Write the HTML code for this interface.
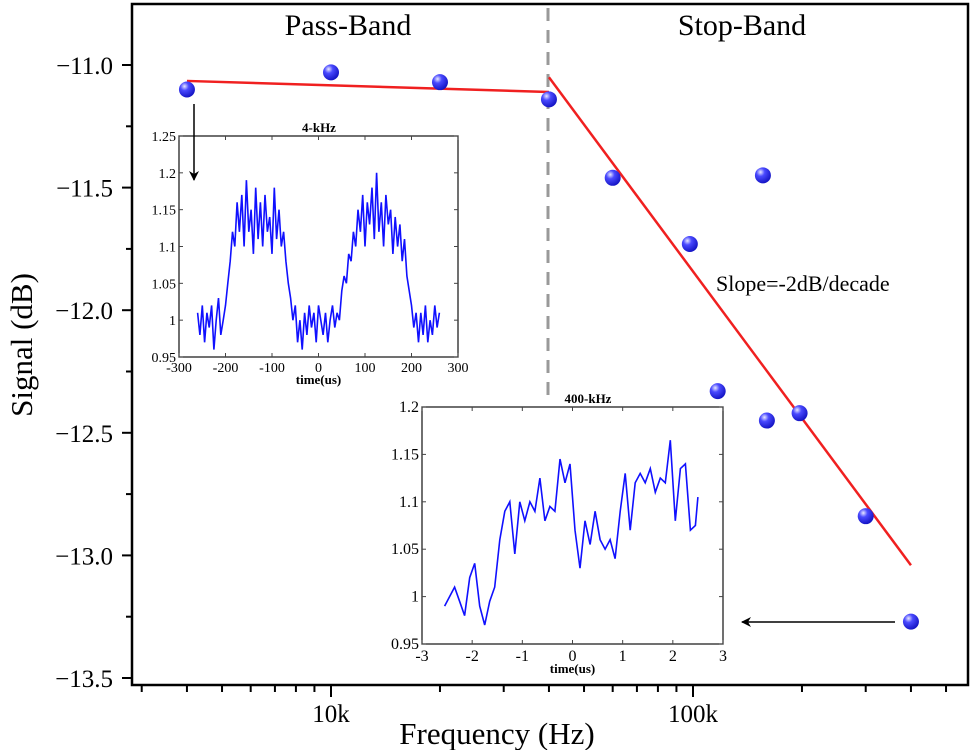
<!DOCTYPE html>
<html><head><meta charset="utf-8"><style>
html,body{margin:0;padding:0;background:#fff}
svg{display:block;font-family:"Liberation Serif",serif}
</style></head><body>
<svg id="chart" width="974" height="750" viewBox="0 0 974 750" xmlns="http://www.w3.org/2000/svg">
<defs>
<radialGradient id="ball" cx="0.35" cy="0.3" r="0.75">
<stop offset="0" stop-color="#e8e8ff"/><stop offset="0.35" stop-color="#4a4aff"/><stop offset="1" stop-color="#1010c0"/>
</radialGradient>
<marker id="ah" markerWidth="10" markerHeight="10" refX="9" refY="5" orient="auto" markerUnits="userSpaceOnUse"><path d="M0,0 L10,5 L0,10 L3,5 Z" fill="#000"/></marker>
</defs>
<g id="main"></g>
</svg>
<script>
// main chart data
const freqs = [4000, 10000, 20000, 40000, 60000, 98000, 117000, 156000, 160000, 197000, 300000, 400000];
const signals = [-11.10, -11.03, -11.07, -11.14, -11.46, -11.73, -12.33, -11.45, -12.45, -12.42, -12.84, -13.27];
const fitFreqs = [4000, 40000, 40000, 400000];
const fitVals = [-11.065, -11.11, -11.05, -13.04];
const yTicks = [-11.0, -11.5, -12.0, -12.5, -13.0, -13.5];
const xMajor = [10000, 100000];
const xMajorLabels = ['10k', '100k'];
// inset 1 (4 kHz)
const t1Start = -260, t1Step = 5;
const sig1 = [1.01,0.98,1.02,0.97,1.01,0.99,1.02,0.96,1.0,1.03,0.98,1.0,
1.02,1.05,1.08,1.12,1.10,1.16,1.12,
1.17,1.10,1.19,1.12,1.15,1.09,1.18,1.11,1.16,1.10,1.17,1.12,1.14,1.09,1.18,1.11,1.15,1.10,
1.12,1.08,1.05,1.03,1.0,1.02,0.97,
1.0,0.96,1.01,0.98,1.02,0.99,1.01,0.97,1.02,1.0,0.98,1.01,0.97,1.0,1.02,0.99,1.01,
1.0,1.04,1.06,1.05,1.09,1.08,1.12,1.10,1.15,
1.12,1.17,1.10,1.16,1.13,1.18,1.11,1.2,1.12,1.16,1.10,1.17,1.13,1.15,1.09,1.14,1.10,1.13,1.08,
1.11,1.06,1.04,1.02,0.99,1.01,0.97,
1.01,0.98,1.02,0.97,1.0,0.98,1.02,0.99,1.01];
const in1XTicks = [-300,-200,-100,0,100,200,300];
const in1YTicks = [0.95,1,1.05,1.1,1.15,1.2,1.25];
const in1YLabels = ['0.95','1','1.05','1.1','1.15','1.2','1.25'];
// inset 2 (400 kHz)
const t2 = [-2.55,-2.45,-2.35,-2.25,-2.15,-2.05,-1.95,-1.85,-1.75,-1.65,-1.55,-1.45,-1.35,-1.25,-1.15,-1.05,-0.95,-0.85,-0.75,-0.65,-0.55,-0.45,-0.35,-0.25,-0.15,-0.05,0.05,0.15,0.25,0.35,0.45,0.55,0.65,0.75,0.85,0.95,1.05,1.15,1.25,1.35,1.45,1.55,1.65,1.75,1.85,1.95,2.05,2.15,2.25,2.35,2.45,2.5];
const sig2 = [0.99,1.0,1.01,0.995,0.98,1.02,1.035,0.99,0.97,0.995,1.01,1.06,1.09,1.1,1.045,1.1,1.08,1.1,1.09,1.125,1.08,1.095,1.09,1.145,1.12,1.14,1.07,1.03,1.08,1.055,1.09,1.06,1.05,1.06,1.04,1.09,1.13,1.07,1.12,1.13,1.12,1.135,1.11,1.125,1.12,1.165,1.08,1.135,1.14,1.07,1.075,1.105];
const in2XTicks = [-3,-2,-1,0,1,2,3];
const in2YTicks = [0.95,1,1.05,1.1,1.15,1.2];
const in2YLabels = ['0.95','1','1.05','1.1','1.15','1.2'];

const NS='http://www.w3.org/2000/svg';
const root=document.getElementById('main');
function mk(tag,attrs,parent){const e=document.createElementNS(NS,tag);for(const k in attrs)e.setAttribute(k,attrs[k]);(parent||root).appendChild(e);return e;}
const L=132,R=968,T=4,B=685;
const xS=f=>331+(Math.log10(f)-4)*362;
const yS=v=>65+(-11-v)*245.2;

let fr=mk('rect',{x:L,y:T,width:R-L,height:B-T,fill:'none',stroke:'#000','stroke-width':2.5});



yTicks.forEach((v,i)=>{
  const y=yS(v);
  let t=mk('line',{x1:L-10,x2:L,y1:y,y2:y,stroke:'#000','stroke-width':2});
  
  
  if(i<yTicks.length-1){const ym=yS(v-0.25);let m=mk('line',{x1:L-6,x2:L,y1:ym,y2:ym,stroke:'#000','stroke-width':2});
  
  }
  let lb=mk('text',{x:113,y:y+9,'text-anchor':'end','font-size':25});
  lb.textContent='\u2212'+Math.abs(v).toFixed(1);
  
  
});
for(let d=3;d<=5;d++){for(let m=1;m<10;m++){const f=m*Math.pow(10,d);const x=xS(f);if(x<L+3||x>R-3)continue;
  const major=(m===1);
  let t=mk('line',{x1:x,x2:x,y1:B,y2:B+(major?12:7),stroke:'#000','stroke-width':2});
  
  
}}
xMajor.forEach((f,i)=>{let lb=mk('text',{x:xS(f),y:722,'text-anchor':'middle','font-size':25});lb.textContent=xMajorLabels[i];
  
  });

let xt=mk('text',{x:497,y:744,'text-anchor':'middle','font-size':31});xt.textContent='Frequency (Hz)';


let yt=mk('text',{x:0,y:0,'text-anchor':'middle','font-size':31,transform:'translate(32,345) rotate(-90)'});yt.textContent='Signal (dB)';



let pb=mk('text',{x:348,y:35,'text-anchor':'middle','font-size':30});pb.textContent='Pass-Band';


let sb=mk('text',{x:742,y:35,'text-anchor':'middle','font-size':30});sb.textContent='Stop-Band';


let sl=mk('text',{x:716,y:291,'font-size':22});sl.textContent='Slope=-2dB/decade';



let dl=mk('line',{x1:548,x2:548,y1:8,y2:400,stroke:'#999','stroke-width':3,'stroke-dasharray':'13,9'});



for(let i=0;i<fitFreqs.length;i+=2){
  let l=mk('line',{x1:xS(fitFreqs[i]),y1:yS(fitVals[i]),x2:xS(fitFreqs[i+1]),y2:yS(fitVals[i+1]),stroke:'#f02020','stroke-width':2.5});
  
  
}

function inset(name,x0,y0,x1,y1,xmin,xmax,ymin,ymax,xs,ys,xticks,yticks,ylabels,title,titleX,fs,lw){
  const g=mk('g',{});
  
  
  mk('rect',{x:x0,y:y0,width:x1-x0,height:y1-y0,fill:'#fff'},g);
  const sx=v=>x0+(v-xmin)/(xmax-xmin)*(x1-x0);
  const sy=v=>y1-(v-ymin)/(ymax-ymin)*(y1-y0);
  let d=xs.map((x,i)=>(i?'L':'M')+sx(x).toFixed(1)+','+sy(ys[i]).toFixed(1)).join('');
  let p=mk('path',{d:d,fill:'none',stroke:'#1010ff','stroke-width':lw},g);
  
  
  mk('rect',{x:x0,y:y0,width:x1-x0,height:y1-y0,fill:'none',stroke:'#222','stroke-width':1.3},g);
  xticks.forEach(v=>{const x=sx(v);
    mk('line',{x1:x,x2:x,y1:y1,y2:y1-4,stroke:'#444'},g);mk('line',{x1:x,x2:x,y1:y0,y2:y0+4,stroke:'#444'},g);
    let t=mk('text',{x:x,y:y1+fs+1,'text-anchor':'middle','font-size':fs},g);t.textContent=String(v);
    
    });
  yticks.forEach((v,i)=>{const y=sy(v);
    mk('line',{x1:x0,x2:x0+4,y1:y,y2:y,stroke:'#444'},g);mk('line',{x1:x1,x2:x1-4,y1:y,y2:y,stroke:'#444'},g);
    let t=mk('text',{x:x0-3,y:y+5,'text-anchor':'end','font-size':fs},g);t.textContent=ylabels[i];
    
    });
  let tt=mk('text',{x:titleX,y:y0-4,'text-anchor':'middle','font-size':13,'font-weight':'bold'},g);tt.textContent=title;
  
  
  let xl=mk('text',{x:(x0+x1)/2,y:y1+fs+13,'text-anchor':'middle','font-size':13,'font-weight':'bold'},g);xl.textContent='time(us)';
  
  
}
const t1=sig1.map((_,i)=>t1Start+i*t1Step);
inset('inset-4khz',179,136,458,357,-300,300,0.95,1.25,t1,sig1,in1XTicks,in1YTicks,in1YLabels,'4-kHz',319,14,1.6);
inset('inset-400khz',422,407,723,644,-3,3,0.95,1.2,t2,sig2,in2XTicks,in2YTicks,in2YLabels,'400-kHz',588,16,1.6);

let a1=mk('line',{x1:194,y1:104,x2:194,y2:180,stroke:'#000','stroke-width':1.5,'marker-end':'url(#ah)'});


let a2=mk('line',{x1:895,y1:622,x2:742,y2:622,stroke:'#000','stroke-width':1.5,'marker-end':'url(#ah)'});



freqs.forEach((f,i)=>{
  let c=mk('circle',{cx:xS(f),cy:yS(signals[i]),r:8,fill:'url(#ball)'});
  
  
});
</script>
</body></html>
